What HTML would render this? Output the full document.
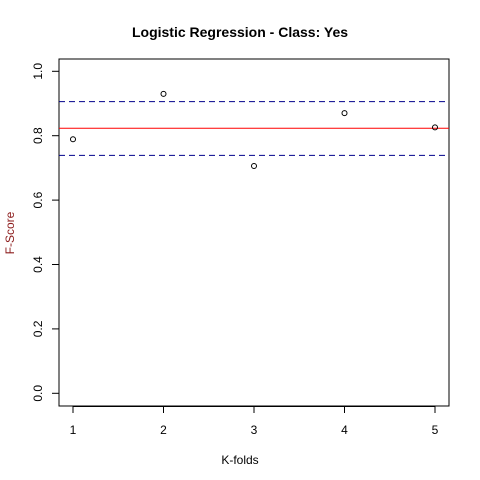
<!DOCTYPE html>
<html><head><meta charset="utf-8"><style>body{margin:0;background:#fff}svg{display:block;font-family:"Liberation Sans",Arial,sans-serif}</style></head>
<body>
<svg id="c" width="480" height="480"></svg>
<script>
const folds=[1,2,3,4,5];
const scores=[0.789,0.930,0.706,0.870,0.826];
const meanScore=0.823;
const bandUpper=0.906;
const bandLower=0.739;
const xTicks=[1,2,3,4,5];
const yTicks=["0.0","0.2","0.4","0.6","0.8","1.0"];
const NS="http://www.w3.org/2000/svg";
const svg=document.getElementById('c');
const L=59,R=449,T=59,B=406;
const xs=v=>73+(v-1)*(435-73)/4;
const ys=v=>393.3-322*v;
function mk(t,a,p){const e=document.createElementNS(NS,t);for(const k in a)e.setAttribute(k,a[k]);(p||svg).appendChild(e);return e;}
let e;
e=mk('rect',{x:L,y:T,width:R-L,height:B-T,fill:'none',stroke:'#000'});


e=mk('text',{x:240,y:37,'text-anchor':'middle','font-size':14,'font-weight':'bold'});e.textContent='Logistic Regression - Class: Yes';


e=mk('text',{x:240,y:464,'text-anchor':'middle','font-size':12});e.textContent='K-folds';


e=mk('text',{x:14,y:233,'text-anchor':'middle','font-size':12,fill:'#8b1a1a',transform:'rotate(-90 14 233)'});e.textContent='F-Score';


xTicks.forEach(v=>{
 const x=xs(v);
 e=mk('line',{x1:x,x2:x,y1:B,y2:B+7,stroke:'#000'});
 
 
 e=mk('text',{x:x,y:434,'text-anchor':'middle','font-size':12});e.textContent=v;
 
 
});
mk('line',{x1:xs(1),x2:xs(5),y1:B+0.5,y2:B+0.5,stroke:'#000'});
yTicks.forEach(s=>{
 const y=ys(parseFloat(s));
 e=mk('line',{x1:L-7,x2:L,y1:y,y2:y,stroke:'#000'});
 
 
 e=mk('text',{x:42,y:y,'text-anchor':'middle','font-size':12,transform:`rotate(-90 42 ${y})`});e.textContent=s;
 
 
});
[bandUpper,bandLower].forEach(v=>{
 e=mk('line',{x1:L,x2:R,y1:ys(v),y2:ys(v),stroke:'#00008b','stroke-dasharray':'6,4'});
 
 
});
e=mk('line',{x1:L,x2:R,y1:ys(meanScore),y2:ys(meanScore),stroke:'#f00'});


folds.forEach((f,i)=>{
 e=mk('circle',{cx:xs(f),cy:ys(scores[i]),r:2.5,fill:'none',stroke:'#000'});
 
 
});
</script>
</body></html>
